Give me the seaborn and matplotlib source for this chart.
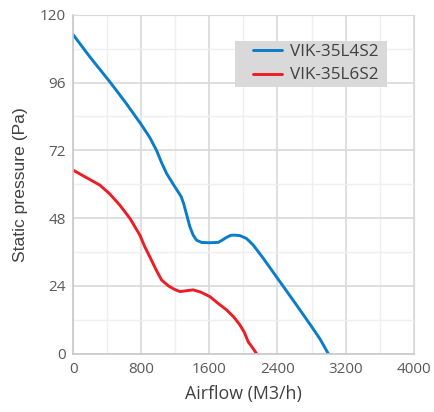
import pandas as pd
import matplotlib
matplotlib.use("Agg")
import matplotlib.pyplot as plt
import seaborn as sns
from matplotlib.patches import Rectangle
from matplotlib.ticker import MultipleLocator

# curve data
l4_airflow = [0, 200, 431, 620, 804, 900, 980, 1040, 1097, 1170, 1234, 1270, 1300,
              1340, 1371, 1410, 1450, 1509, 1600, 1704, 1750, 1803, 1850, 1900,
              1960, 2037, 2115, 2233, 2429, 2625, 2801, 2900, 2997]
l4_pressure = [113.0, 105.0, 96.3, 88.8, 81.0, 76.6, 72.0, 67.6, 63.9, 60.3, 57.3, 55.6, 53.0,
               48.5, 45.0, 42.0, 40.2, 39.4, 39.3, 39.4, 40.2, 41.2, 41.9, 42.0,
               41.8, 40.8, 38.5, 33.8, 25.5, 17.2, 9.6, 5.2, 0]
l6_airflow = [0, 314, 430, 549, 670, 784, 840, 901, 970, 1039, 1120, 1190, 1254,
              1330, 1410, 1500, 1607, 1700, 1803, 1890, 1959, 2010, 2057, 2110, 2155]
l6_pressure = [65.0, 59.7, 56.6, 52.6, 47.8, 42.0, 38.0, 34.3, 30.0, 26.1, 24.0, 22.8, 22.0,
               22.3, 22.6, 21.8, 20.2, 17.9, 15.5, 12.9, 10.2, 7.6, 4.2, 2.0, 0]
models = ["VIK-35L4S2", "VIK-35L6S2"]
colors = ["#0a7cc8", "#ee1c25"]

df = pd.concat([
    pd.DataFrame({"Airflow": l4_airflow, "Pressure": l4_pressure, "Model": models[0]}),
    pd.DataFrame({"Airflow": l6_airflow, "Pressure": l6_pressure, "Model": models[1]}),
])

sns.set_style("white")
plt.rcParams["font.family"] = ["Open Sans", "DejaVu Sans"]

fig = plt.figure(figsize=(4.35, 4.12), dpi=100)
ax = fig.add_axes([0.168, 0.1415, 0.783, 0.8225])

sns.lineplot(data=df, x="Airflow", y="Pressure", hue="Model", palette=colors,
             sort=False, linewidth=2.1, ax=ax)
for line in ax.get_lines():
    line.set_solid_joinstyle("round")

ax.set_xlim(0, 4000)
ax.set_ylim(0, 120)
ax.xaxis.set_major_locator(MultipleLocator(800))
ax.yaxis.set_major_locator(MultipleLocator(24))
ax.xaxis.set_minor_locator(MultipleLocator(400))
ax.yaxis.set_minor_locator(MultipleLocator(12))
ax.grid(which="major", color="#d9d9d9", linewidth=1.2)
ax.grid(which="minor", color="#efefef", linewidth=1.0)
ax.set_axisbelow(True)
for s in ["top", "right"]:
    ax.spines[s].set_color("#d9d9d9")
for s in ["left", "bottom"]:
    ax.spines[s].set_color("#c8c8c8")
    ax.spines[s].set_linewidth(1.2)
ax.tick_params(which="both", length=0, labelsize=11, labelcolor="#595959")
ax.tick_params(axis="y", pad=5)
ax.tick_params(axis="x", pad=6)

ax.set_xlabel("Airflow (M3/h)", fontsize=12.8, color="#404040", labelpad=6)
ax.set_ylabel("Static pressure (Pa)", fontsize=12.6, color="#404040",
              family=["Liberation Sans", "DejaVu Sans"], labelpad=9)

# grey legend box, wider than matplotlib's own frame
ax.add_patch(Rectangle((0.475, 0.787), 0.447, 0.136, transform=ax.transAxes,
                       facecolor="#d9d9d9", edgecolor="none", zorder=4))
leg = ax.legend(loc="upper left", bbox_to_anchor=(0.527, 0.913), borderaxespad=0,
                fontsize=12.3, frameon=False, handlelength=1.75, handletextpad=0.45,
                borderpad=0, labelspacing=0.42)
leg.set_zorder(5)
for t in leg.get_texts():
    t.set_color("#404040")

fig.savefig("out.png", dpi=100)
